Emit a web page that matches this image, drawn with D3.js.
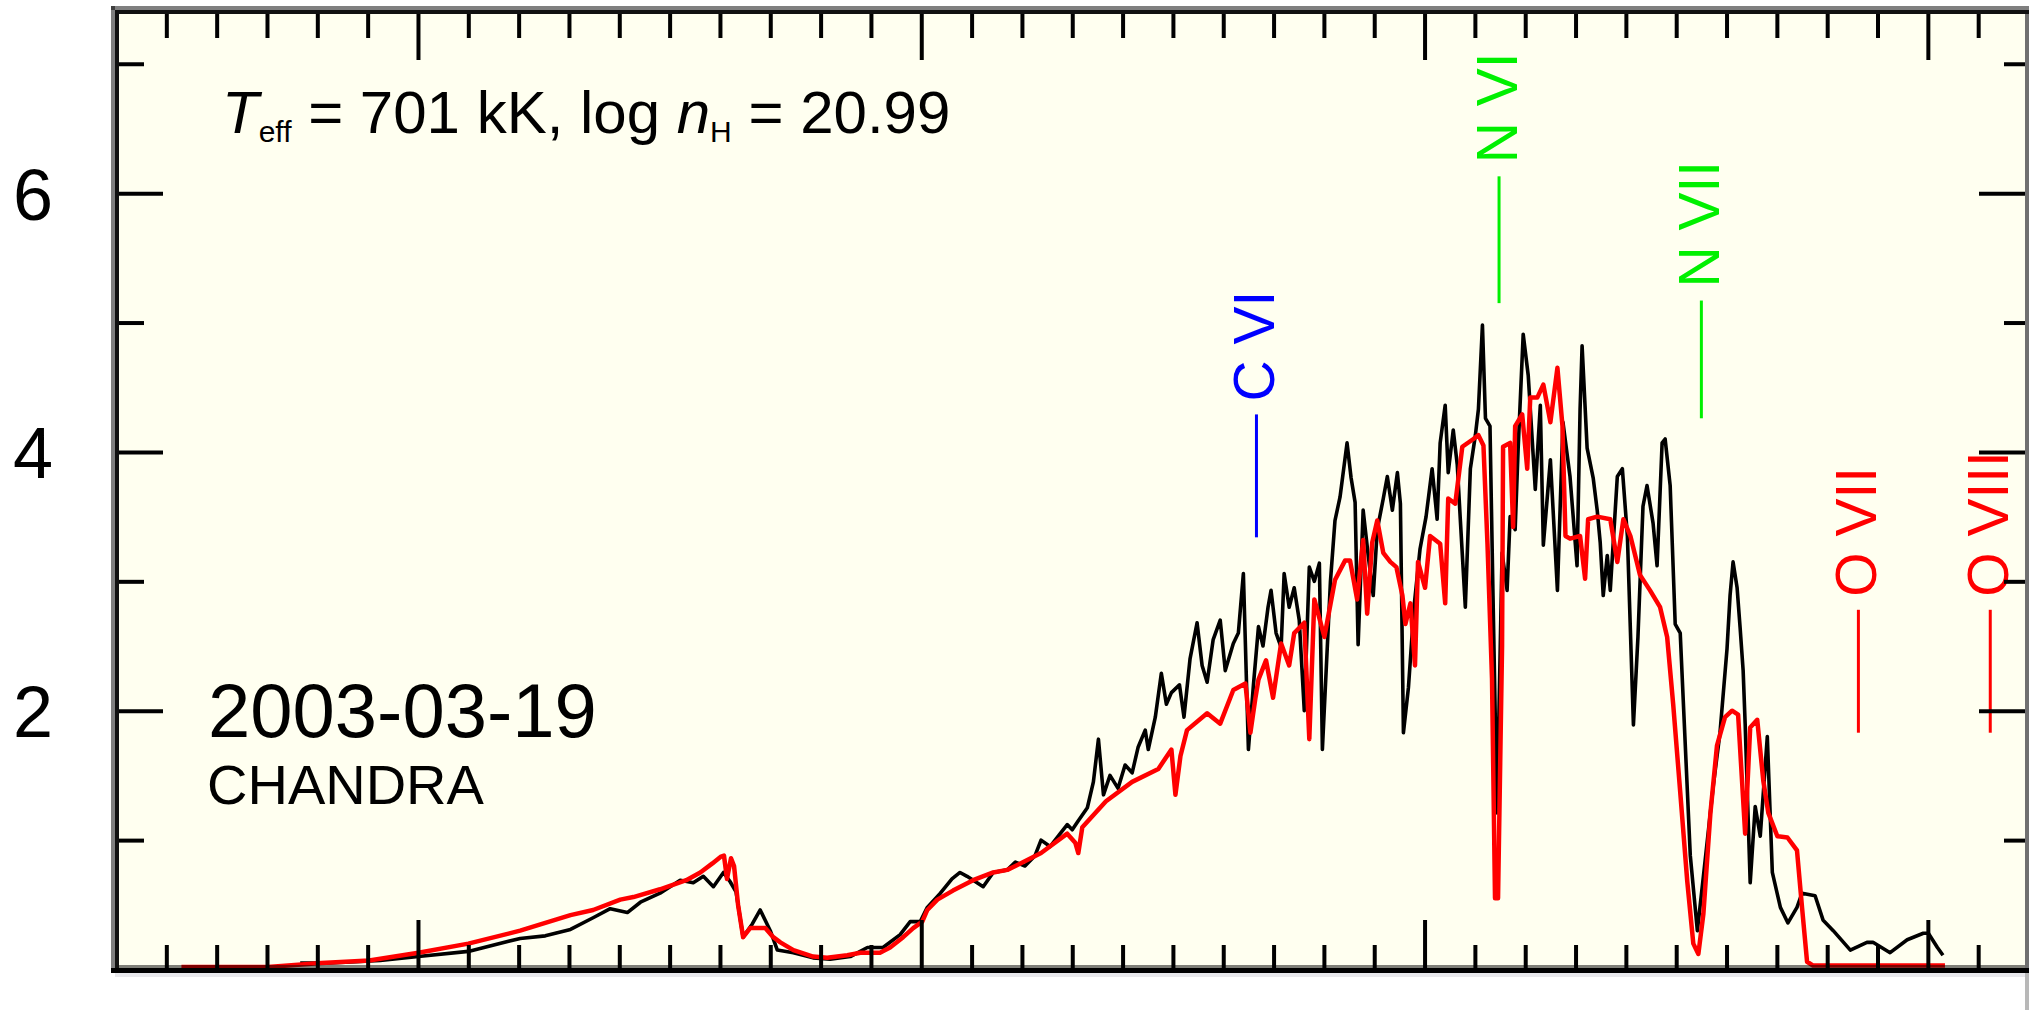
<!DOCTYPE html>
<html>
<head>
<meta charset="utf-8">
<script src="https://cdn.jsdelivr.net/npm/d3@7"></script>
<style>
  body { margin: 0; background: #fff; }
  svg { display: block; }
  text { font-family: "Liberation Sans", Arial, Helvetica, sans-serif; }
</style>
</head>
<body>
<svg id="chart" width="2041" height="1010"></svg>
<script>
// observed spectrum (black), wavelength in A
var obsWave = [52.34,51.74,50.75,49.99,49.00,47.97,47.47,46.97,46.52,46.18,45.84,45.58,45.19,44.79,44.53,44.33,44.13,43.93,43.80,43.68,
  43.54,43.36,43.20,43.00,42.86,42.54,42.15,41.81,41.41,41.07,40.76,40.42,40.22,40.02,39.88,39.62,39.39,39.23,39.09,38.77,
  38.57,38.29,38.13,37.94,37.74,37.62,37.44,37.24,37.10,37.00,36.88,36.70,36.58,36.48,36.38,36.25,36.09,35.95,35.81,35.69,
  35.55,35.49,35.35,35.23,35.13,35.03,34.87,34.78,34.66,34.52,34.42,34.32,34.20,34.06,33.96,33.80,33.70,33.60,33.50,33.40,
  33.30,33.21,33.11,33.05,32.95,32.85,32.79,32.69,32.59,32.49,32.39,32.29,32.19,32.09,32.03,31.87,31.78,31.68,31.54,31.46,
  31.38,31.32,31.22,31.12,31.02,30.94,30.82,30.74,30.64,30.54,30.48,30.42,30.32,30.21,30.09,29.97,29.85,29.75,29.69,29.59,
  29.53,29.43,29.35,29.29,29.19,29.09,28.99,28.93,28.85,28.79,28.70,28.64,28.56,28.46,28.36,28.30,28.20,28.14,28.04,27.94,
  27.80,27.70,27.64,27.50,27.36,27.25,27.11,26.97,26.91,26.87,26.77,26.65,26.57,26.51,26.45,26.37,26.31,26.17,26.07,25.97,
  25.85,25.76,25.66,25.58,25.46,25.38,25.28,25.22,25.12,25.02,24.92,24.86,24.72,24.58,24.46,24.26,24.13,23.99,23.93,23.87,
  23.79,23.73,23.67,23.63,23.53,23.43,23.33,23.19,23.09,22.93,22.78,22.60,22.50,22.24,22.08,21.88,21.54,21.21,21.09,20.75,
  20.41,20.09,19.99,19.81,19.70];
var obsFlux = [0.05,0.05,0.07,0.10,0.14,0.24,0.26,0.31,0.40,0.47,0.44,0.52,0.59,0.69,0.67,0.72,0.64,0.75,0.68,0.60,
  0.25,0.35,0.46,0.30,0.15,0.13,0.09,0.08,0.10,0.17,0.17,0.27,0.37,0.37,0.48,0.59,0.70,0.75,0.72,0.64,
  0.75,0.77,0.83,0.80,0.88,1.00,0.95,1.05,1.12,1.08,1.15,1.25,1.45,1.78,1.35,1.50,1.40,1.58,1.52,1.72,
  1.85,1.70,1.95,2.29,2.05,2.14,2.20,1.95,2.40,2.68,2.35,2.22,2.55,2.70,2.31,2.52,2.60,3.06,1.70,2.20,
  2.65,2.50,2.80,2.93,2.60,2.49,3.06,2.80,2.95,2.70,2.00,3.11,3.00,3.14,1.70,3.00,3.47,3.65,4.07,3.80,
  3.61,2.51,3.55,3.20,2.89,3.40,3.64,3.81,3.55,3.84,3.60,1.83,2.18,2.80,3.25,3.50,3.87,3.48,4.07,4.36,
  3.84,4.17,3.90,3.48,2.80,3.87,4.13,4.33,4.98,4.26,4.20,2.89,1.21,3.22,2.93,3.50,3.40,4.03,4.91,4.59,
  3.71,4.36,3.28,3.94,2.93,4.23,3.81,3.12,4.33,4.82,4.03,3.80,3.55,3.30,2.89,3.20,2.93,3.81,3.87,3.35,
  1.89,2.57,3.58,3.74,3.45,3.12,4.07,4.10,3.74,2.67,2.60,2.08,0.88,0.30,0.72,1.43,1.83,2.48,2.89,3.15,
  2.95,2.64,2.31,1.90,0.67,1.26,1.03,1.80,0.75,0.48,0.36,0.48,0.59,0.57,0.38,0.30,0.15,0.21,0.21,0.13,
  0.23,0.28,0.28,0.17,0.11];

// model spectrum (red)
var modelWave = [54.70,52.98,51.92,50.97,49.99,49.00,47.97,46.97,46.52,45.98,45.72,45.19,44.67,44.39,44.15,43.99,43.92,43.86,43.78,43.72,
  43.64,43.54,43.40,43.10,42.94,42.80,42.54,42.15,41.87,41.47,41.21,40.82,40.62,40.36,40.16,39.98,39.88,39.68,39.37,38.97,
  38.57,38.29,38.13,37.62,37.10,36.94,36.88,36.80,36.33,35.81,35.29,35.03,34.95,34.85,34.72,34.32,34.06,33.80,33.56,33.46,
  33.36,33.30,33.15,33.01,32.85,32.69,32.59,32.39,32.29,32.19,31.99,31.78,31.58,31.48,31.34,31.22,31.14,31.04,30.94,30.82,
  30.68,30.56,30.44,30.38,30.28,30.19,30.13,29.99,29.89,29.69,29.59,29.53,29.39,29.25,29.03,28.93,28.83,28.75,28.66,28.60,
  28.54,28.46,28.44,28.30,28.24,28.20,28.06,27.96,27.90,27.76,27.64,27.50,27.36,27.26,27.20,27.11,26.91,26.81,26.75,26.57,
  26.31,26.17,26.05,25.91,25.72,25.52,25.32,25.18,25.06,24.92,24.78,24.66,24.56,24.46,24.32,24.19,24.03,23.89,23.77,23.63,
  23.53,23.39,23.27,23.17,22.99,22.79,22.60,22.50,22.40,22.28,19.66];
var modelFlux = [0.02,0.02,0.05,0.07,0.13,0.20,0.30,0.42,0.46,0.54,0.56,0.62,0.69,0.75,0.82,0.87,0.88,0.70,0.86,0.80,
  0.50,0.25,0.32,0.32,0.25,0.21,0.15,0.10,0.09,0.11,0.13,0.13,0.17,0.25,0.32,0.37,0.46,0.54,0.61,0.69,
  0.75,0.77,0.80,0.90,1.05,0.98,0.90,1.10,1.30,1.45,1.55,1.70,1.35,1.65,1.85,1.98,1.90,2.16,2.21,1.83,
  2.10,2.24,2.39,2.10,2.52,2.35,2.60,2.68,1.78,2.86,2.57,3.01,3.16,3.16,2.86,3.32,2.75,3.30,3.47,3.22,
  3.15,3.11,2.89,2.67,2.83,2.35,3.15,2.95,3.35,3.29,2.83,3.64,3.60,4.04,4.10,4.13,4.05,3.29,2.25,0.55,
  0.55,2.50,4.04,4.07,3.42,4.20,4.29,3.87,4.42,4.42,4.52,4.23,4.65,4.20,3.35,3.33,3.35,3.02,3.48,3.50,
  3.48,3.15,3.48,3.35,3.05,2.93,2.80,2.57,2.05,1.37,0.68,0.20,0.12,0.43,1.21,1.73,1.95,2.00,1.97,1.05,
  1.87,1.93,1.46,1.21,1.03,1.02,0.92,0.48,0.06,0.03,0.03];

// identified lines
var lineNames = ["C VI", "N VI", "N VII", "O VII", "O VIII"];
var lineWave = [33.34, 28.52, 24.50, 21.38, 18.76];
var lineTop = [4.29, 6.13, 5.17, 2.78, 2.78];
var lineBottom = [3.34, 5.15, 4.26, 1.83, 1.83];
var lineColor = ["#0000ff", "#00f000", "#00f000", "#ff0000", "#ff0000"];

// axis ticks
var xMajor = [50, 40, 30, 20];
var xMinor = [55,54,53,52,51,49,48,47,46,45,44,43,42,41,39,38,37,36,35,34,33,32,31,29,28,27,26,25,24,23,22,21,19];
var yMajor = [2, 4, 6];
var yMinor = [1, 3, 5, 7];

var svg = d3.select("#chart");

var x = d3.scaleLinear().domain([56.0, 18.03]).range([116, 2027]);
var y = d3.scaleLinear().domain([0, 7.4]).range([969.5, 12]);

// plot background
svg.append("rect")
	.attr("x", 117).attr("y", 12)
	.attr("width", 2027 - 117).attr("height", 970 - 12)
	.attr("fill", "#fffff0");

var obs = obsWave.map(function (w, i) { return [w, obsFlux[i]]; });
var model = modelWave.map(function (w, i) { return [w, modelFlux[i]]; });

var line = d3.line()
	.x(function (d) { return x(d[0]); })
	.y(function (d) { return y(d[1]); });

svg.append("path")
	.attr("d", line(obs))
	.attr("fill", "none")
	.attr("stroke", "#000")
	.attr("stroke-width", 3.6)
	.attr("stroke-linejoin", "round");

svg.append("path")
	.attr("d", line(model))
	.attr("fill", "none")
	.attr("stroke", "#ff0000")
	.attr("stroke-width", 4.5)
	.attr("stroke-linejoin", "round");

// line markers + labels
lineNames.forEach(function (name, i) {
	var lx = x(lineWave[i]);
	svg.append("line")
		.attr("x1", lx).attr("x2", lx)
		.attr("y1", y(lineTop[i])).attr("y2", y(lineBottom[i]))
		.attr("stroke", lineColor[i])
		.attr("stroke-width", 3);
	svg.append("text")
		.attr("transform", "translate(" + (lx + 18) + "," + (y(lineTop[i]) - 13) + ") rotate(-90)")
		.attr("font-size", 57)
		.attr("fill", lineColor[i])
		.text(name);
});

// ticks
function styleAxis(g) {
	g.select(".domain").remove();
	g.selectAll(".tick line").attr("stroke", "#000").attr("stroke-width", 4);
}

svg.append("g").attr("transform", "translate(0,970)")
	.call(d3.axisBottom(x).tickValues(xMinor).tickSize(-25).tickFormat("")).call(styleAxis);
svg.append("g").attr("transform", "translate(0,970)")
	.call(d3.axisBottom(x).tickValues(xMajor).tickSize(-50).tickFormat("")).call(styleAxis);
svg.append("g").attr("transform", "translate(0,12)")
	.call(d3.axisTop(x).tickValues(xMinor).tickSize(-26).tickFormat("")).call(styleAxis);
svg.append("g").attr("transform", "translate(0,12)")
	.call(d3.axisTop(x).tickValues(xMajor).tickSize(-48).tickFormat("")).call(styleAxis);

svg.append("g").attr("transform", "translate(117,0)")
	.call(d3.axisLeft(y).tickValues(yMinor).tickSize(-27).tickFormat("")).call(styleAxis);
var yAx = svg.append("g").attr("transform", "translate(117,0)")
	.call(d3.axisLeft(y).tickValues(yMajor).tickSize(-46).tickPadding(64).tickFormat(d3.format("d")))
	.call(styleAxis);
yAx.selectAll(".tick text")
	.attr("font-size", 72)
	.attr("font-family", "Liberation Sans, Arial, sans-serif")
	.attr("fill", "#000")
	.attr("dy", "0.36em");

svg.append("g").attr("transform", "translate(2027,0)")
	.call(d3.axisRight(y).tickValues(yMinor).tickSize(-23).tickFormat("")).call(styleAxis);
svg.append("g").attr("transform", "translate(2027,0)")
	.call(d3.axisRight(y).tickValues(yMajor).tickSize(-48).tickFormat("")).call(styleAxis);

// frame: grey shadow edges + black edges
var frameGray = "rgba(0,0,0,0.5)";
svg.append("line").attr("x1", 113).attr("x2", 113).attr("y1", 6).attr("y2", 973).attr("stroke", frameGray).attr("stroke-width", 4);
svg.append("line").attr("x1", 111).attr("x2", 2029).attr("y1", 8).attr("y2", 8).attr("stroke", frameGray).attr("stroke-width", 4);
svg.append("line").attr("x1", 2027).attr("x2", 2027).attr("y1", 10).attr("y2", 973).attr("stroke", "#707070").attr("stroke-width", 4);
svg.append("line").attr("x1", 119).attr("x2", 2025).attr("y1", 966.5).attr("y2", 966.5).attr("stroke", frameGray).attr("stroke-width", 3);
svg.append("line").attr("x1", 117).attr("x2", 117).attr("y1", 10).attr("y2", 973).attr("stroke", "#111").attr("stroke-width", 4);
svg.append("line").attr("x1", 115).attr("x2", 2029).attr("y1", 12).attr("y2", 12).attr("stroke", "#111").attr("stroke-width", 4);
svg.append("line").attr("x1", 111).attr("x2", 2029).attr("y1", 970.5).attr("y2", 970.5).attr("stroke", "#000").attr("stroke-width", 5);
svg.append("line").attr("x1", 115).attr("x2", 2025).attr("y1", 975).attr("y2", 975).attr("stroke", "#e8e8ec").attr("stroke-width", 4);
svg.append("line").attr("x1", 2027).attr("x2", 2027).attr("y1", 973).attr("y2", 1010).attr("stroke", "#b8b8b8").attr("stroke-width", 4);

// annotations
var ann = svg.append("text")
	.attr("x", 222).attr("y", 133)
	.attr("font-size", 60)
	.attr("fill", "#000")
	.style("white-space", "pre");
ann.append("tspan").attr("font-style", "italic").text("T");
ann.append("tspan").attr("font-size", 30).attr("dy", 9).text("eff");
ann.append("tspan").attr("dy", -9).text(" = 701 kK, log ");
ann.append("tspan").attr("font-style", "italic").text("n");
ann.append("tspan").attr("font-size", 30).attr("dy", 9).text("H");
ann.append("tspan").attr("dy", -9).text(" = 20.99");

svg.append("text")
	.attr("x", 208).attr("y", 737)
	.attr("font-size", 76)
	.attr("fill", "#000")
	.text("2003-03-19");

svg.append("text")
	.attr("x", 207).attr("y", 804)
	.attr("font-size", 56)
	.attr("fill", "#000")
	.text("CHANDRA");
</script>
</body>
</html>
